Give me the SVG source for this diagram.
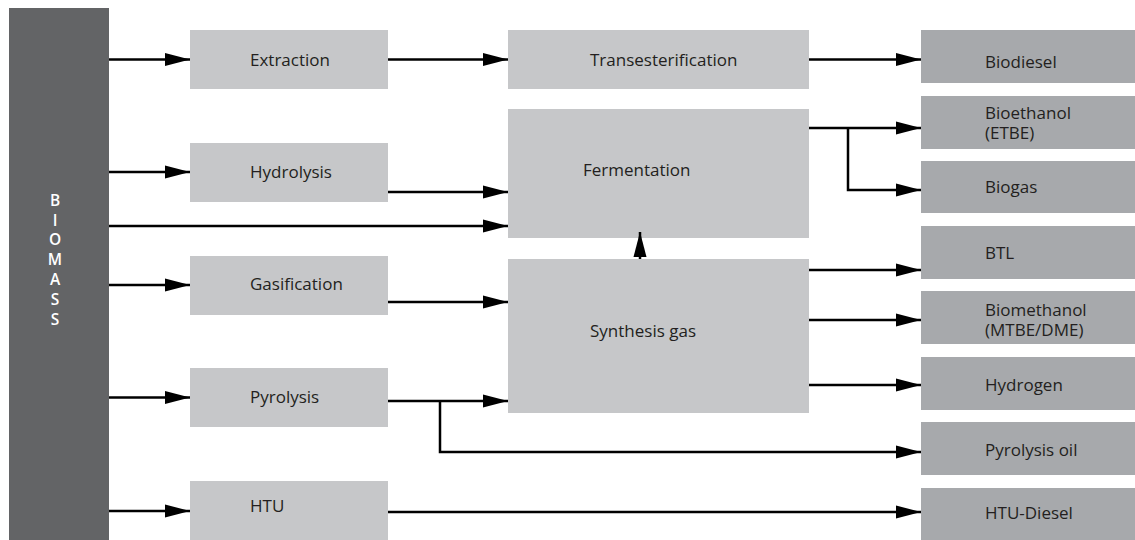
<svg xmlns="http://www.w3.org/2000/svg" width="1135" height="540" viewBox="0 0 1135 540">
<defs>
<marker id="ah" markerUnits="userSpaceOnUse" markerWidth="26" markerHeight="14" refX="25" refY="7" orient="auto">
<path d="M0,0.5 L25,7 L0,13.5 z" fill="#000"/>
</marker>
<style>
.bar{fill:#636466}
.lt{fill:#c6c7c9}
.dk{fill:#a7a9ac}
.t{font-family:"Open Sans","Noto Sans",sans-serif;font-size:17px;fill:#231f20}
.bt{font-family:"Open Sans","Noto Sans",sans-serif;font-size:15.5px;font-weight:600;fill:#fff;text-anchor:middle}
.c{fill:none;stroke:#000;stroke-width:2.5}
.a{marker-end:url(#ah)}
</style>
</defs>
<rect width="1135" height="540" fill="#fff"/>
<g id="biomass">
<rect class="bar" x="9" y="8" width="100" height="532"/>
<text class="bt" x="55" y="206">B</text>
<text class="bt" x="55" y="226">I</text>
<text class="bt" x="55" y="245">O</text>
<text class="bt" x="55" y="265">M</text>
<text class="bt" x="55" y="285">A</text>
<text class="bt" x="55" y="305">S</text>
<text class="bt" x="55" y="325">S</text>
</g>
<g id="extraction"><rect class="lt" x="190" y="30" width="198" height="59"/><text class="t" x="250" y="66">Extraction</text></g>
<g id="hydrolysis"><rect class="lt" x="190" y="143" width="198" height="59"/><text class="t" x="250" y="178">Hydrolysis</text></g>
<g id="gasification"><rect class="lt" x="190" y="256" width="198" height="59"/><text class="t" x="250" y="290">Gasification</text></g>
<g id="pyrolysis"><rect class="lt" x="190" y="368" width="198" height="59"/><text class="t" x="250" y="403">Pyrolysis</text></g>
<g id="htu"><rect class="lt" x="190" y="481" width="198" height="59"/><text class="t" x="250" y="512">HTU</text></g>
<g id="transesterification"><rect class="lt" x="508" y="30" width="301" height="59"/><text class="t" x="590" y="66">Transesterification</text></g>
<g id="fermentation"><rect class="lt" x="508" y="109" width="301" height="129"/><text class="t" x="583" y="176">Fermentation</text></g>
<g id="synthesis-gas"><rect class="lt" x="508" y="259" width="301" height="154"/><text class="t" x="590" y="337">Synthesis gas</text></g>
<g id="biodiesel"><rect class="dk" x="921" y="30" width="214" height="53"/><text class="t" x="985" y="68">Biodiesel</text></g>
<g id="bioethanol"><rect class="dk" x="921" y="96" width="214" height="53"/><text class="t" x="985" y="119">Bioethanol</text><text class="t" x="985" y="139">(ETBE)</text></g>
<g id="biogas"><rect class="dk" x="921" y="161" width="214" height="52"/><text class="t" x="985" y="193">Biogas</text></g>
<g id="btl"><rect class="dk" x="921" y="226" width="214" height="53"/><text class="t" x="985" y="259">BTL</text></g>
<g id="biomethanol"><rect class="dk" x="921" y="291" width="214" height="53"/><text class="t" x="985" y="316">Biomethanol</text><text class="t" x="985" y="336">(MTBE/DME)</text></g>
<g id="hydrogen"><rect class="dk" x="921" y="357" width="214" height="53"/><text class="t" x="985" y="391">Hydrogen</text></g>
<g id="pyrolysis-oil"><rect class="dk" x="921" y="422" width="214" height="53"/><text class="t" x="985" y="456">Pyrolysis oil</text></g>
<g id="htu-diesel"><rect class="dk" x="921" y="488" width="214" height="52"/><text class="t" x="985" y="519">HTU-Diesel</text></g>
<g id="connectors">
<line class="c a" x1="109" y1="59.5" x2="190" y2="59.5"/>
<line class="c a" x1="109" y1="172" x2="190" y2="172"/>
<line class="c a" x1="109" y1="226" x2="508" y2="226"/>
<line class="c a" x1="109" y1="285" x2="190" y2="285"/>
<line class="c a" x1="109" y1="397.5" x2="190" y2="397.5"/>
<line class="c a" x1="109" y1="511" x2="190" y2="511"/>
<line class="c a" x1="388" y1="59.5" x2="508" y2="59.5"/>
<line class="c a" x1="388" y1="192" x2="508" y2="192"/>
<line class="c a" x1="388" y1="302" x2="508" y2="302"/>
<line class="c a" x1="388" y1="401" x2="508" y2="401"/>
<polyline class="c a" points="440,401 440,452 921,452"/>
<line class="c a" x1="388" y1="512" x2="921" y2="512"/>
<line class="c a" x1="809" y1="59.5" x2="921" y2="59.5"/>
<line class="c a" x1="809" y1="128" x2="921" y2="128"/>
<polyline class="c a" points="848,128 848,190 921,190"/>
<line class="c a" x1="809" y1="270" x2="921" y2="270"/>
<line class="c a" x1="809" y1="320" x2="921" y2="320"/>
<line class="c a" x1="809" y1="385" x2="921" y2="385"/>
<line class="c a" x1="640" y1="259" x2="640" y2="232"/>
</g>
</svg>
